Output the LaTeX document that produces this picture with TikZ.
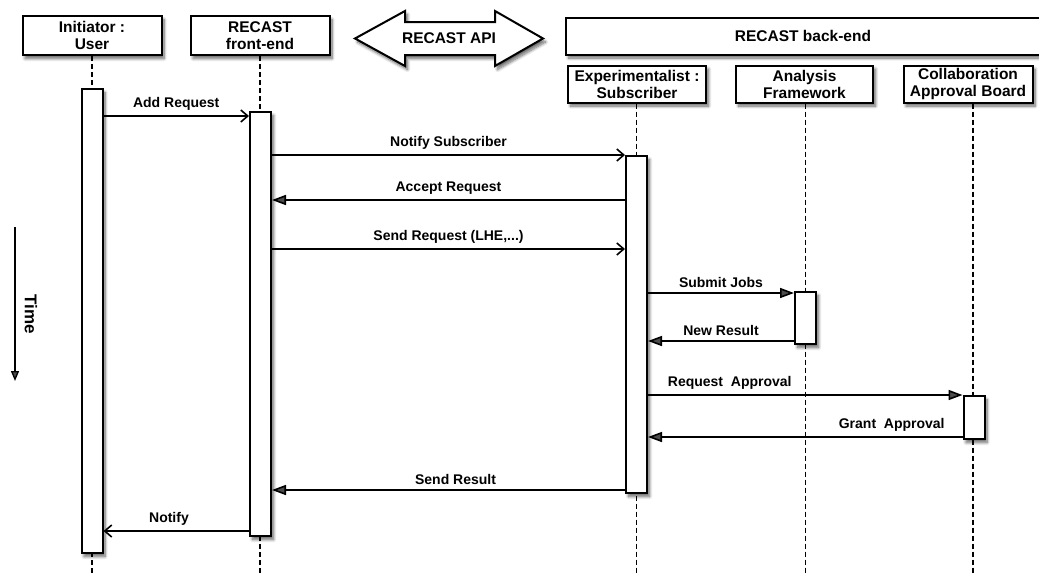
\documentclass[tikz,border=0pt]{standalone}
\usepackage{fontspec}
\setmainfont{Liberation Sans}
\usetikzlibrary{arrows.meta,shadows.blur}
\begin{document}
\begin{tikzpicture}[x=1pt,y=-1pt,
  font=\fontsize{14}{17}\selectfont\bfseries,
  shade/.style={blur shadow={shadow xshift=2.5pt,shadow yshift=-3.5pt,shadow blur radius=3pt,shadow blur steps=8,shadow opacity=60}},
  hdr/.style={draw,line width=2pt,fill=white,inner sep=0pt,align=center,
    font=\fontsize{15.5}{17}\selectfont\bfseries,shade},
  act/.style={draw,line width=2pt,fill=white,inner sep=0pt,minimum width=21pt,anchor=north,shade},
  life/.style={line width=1.8pt,dash pattern=on 5pt off 3pt},
  sync/.style={line width=1.6pt,-{Triangle[length=14pt,width=10pt]}},
  async/.style={line width=1.6pt,-{Straight Barb[length=7pt,width=12pt,line width=1.6pt]}},
  lbl/.style={above=4pt,inner sep=1pt}
]
\useasboundingbox (0,0) rectangle (1039,573);

% lifeline positions
\coordinate (xU) at (92,0);
\coordinate (xF) at (260.5,0);
\coordinate (xE) at (636.5,0);
\coordinate (xA) at (805.5,0);
\coordinate (xC) at (973,0);

% participant headers
\node[hdr,minimum width=139pt,minimum height=39pt] (init) at (92,35.5) {Initiator :\\User};
\node[hdr,minimum width=139pt,minimum height=39pt] (front) at (260,35.5) {RECAST\\front-end};
\node[hdr,minimum width=474pt,minimum height=37pt] (back) at (803,36) {RECAST back-end};
\node[hdr,minimum width=138pt,minimum height=37pt] (exp) at (637,84) {Experimentalist :\\Subscriber};
\node[hdr,minimum width=137pt,minimum height=37pt] (ana) at (804.5,84) {Analysis\\Framework};
\node[hdr,minimum width=129pt,minimum height=37pt] (col) at (968,84) {Collaboration\\Approval Board};

% API double arrow
\path[fill=white,draw,line width=2pt,shade]
  (355,38.5) -- (405,11) -- (405,22) -- (495,22) -- (495,11) -- (543,38.5)
  -- (495,66) -- (495,55) -- (405,55) -- (405,66) -- cycle;
\node[font=\fontsize{15.5}{17}\selectfont\bfseries] (api) at (449,38.5) {RECAST API};

% lifelines
\draw[life] (init.south) -- (init.south |- 0,573);
\draw[life] (front.south) -- (front.south |- 0,573);
\draw[life] (xE |- exp.south) -- (xE |- 0,573);
\draw[life] (xA |- ana.south) -- (xA |- 0,573);
\draw[life] (xC |- col.south) -- (xC |- 0,573);

% activation bars
\node[act,minimum height=464pt] (aU) at (92,88) {};
\node[act,minimum height=424pt] (aF) at (260.5,111) {};
\node[act,minimum height=337pt] (aE) at (636.5,155) {};
\node[act,minimum height=52pt] (aA) at (805.5,291) {};
\node[act,minimum height=43pt] (aC) at (974,395) {};

% messages
\draw[async] (aU.east |- 0,116) -- node[lbl] {Add Request} (aF.west |- 0,116);
\draw[async] (aF.east |- 0,155) -- node[lbl] {Notify Subscriber} (aE.west |- 0,155);
\draw[sync] (aE.west |- 0,200) -- node[lbl] {Accept Request} (aF.east |- 0,200);
\draw[async] (aF.east |- 0,249) -- node[lbl] {Send Request (LHE,...)} (aE.west |- 0,249);
\draw[sync] (aE.east |- 0,293) -- node[lbl] {Submit Jobs} (aA.west |- 0,293);
\draw[sync] (aA.west |- 0,341) -- node[lbl] {New Result} (aE.east |- 0,341);
\draw[sync] (aE.east |- 0,395) -- node[lbl,pos=0.26] {Request\ \ Approval} (aC.west |- 0,395);
\draw[sync] (aC.west |- 0,437) -- node[lbl,pos=0.225] {Grant\ \ Approval} (aE.east |- 0,437);
\draw[sync] (aE.west |- 0,490) -- node[lbl,pos=0.48] {Send Result} (aF.east |- 0,490);
\draw[async] (aF.west |- 0,531) -- node[lbl,pos=0.55] {Notify} (aU.east |- 0,531);

% time axis
\coordinate (t0) at (15,227);
\coordinate (t1) at (15,381);
\draw[line width=1.3pt,-{Triangle[length=10pt,width=8pt]}] (t0) -- (t1);
\node[rotate=-90,font=\fontsize{17}{19}\selectfont\bfseries] (time) at (31,314) {Time};
\end{tikzpicture}
\end{document}
